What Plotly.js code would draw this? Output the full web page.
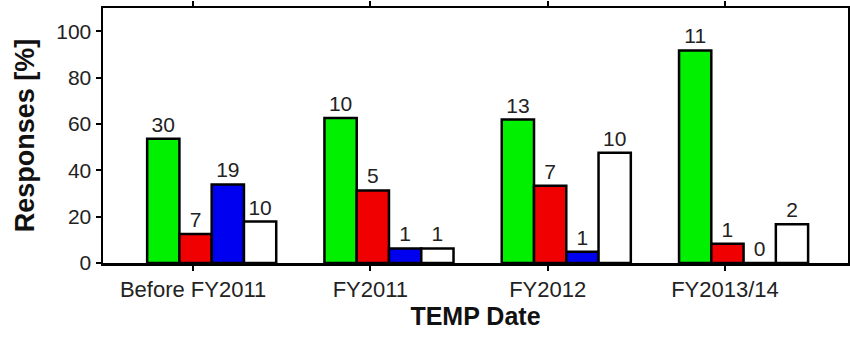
<!DOCTYPE html>
<html>
<head>
<meta charset="utf-8">
<script src="https://cdn.plot.ly/plotly-3.0.1.min.js"></script>
<style>
html,body{margin:0;padding:0;background:#fff;}
#chart{width:850px;height:338px;}
</style>
</head>
<body>
<div id="chart"></div>
<script>
// Categories (TEMP date groups)
const categories = ["Before FY2011", "FY2011", "FY2012", "FY2013/14"];

// Response percentages for each series
const greenPct = [53.6, 62.5, 61.9, 91.7];
const redPct   = [12.5, 31.3, 33.3, 8.3];
const bluePct  = [33.9, 6.3, 4.8, 0];
const whitePct = [17.9, 6.3, 47.6, 16.7];

// Response counts shown above each bar
const greenCnt = [30, 10, 13, 11];
const redCnt   = [7, 5, 7, 1];
const blueCnt  = [19, 1, 1, 0];
const whiteCnt = [10, 1, 10, 2];

// Y axis ticks
const yTicks = [0, 20, 40, 60, 80, 100];

const FONT = '"Liberation Sans", Arial, Helvetica, sans-serif';
const barW = 0.182;
const offsets = [-0.259, -0.077, 0.105, 0.287];

function mk(y, cnt, color, off) {
  return {
    type: 'bar',
    x: categories,
    y: y,
    text: cnt.map(String),
    textposition: 'outside',
    cliponaxis: false,
    textfont: {family: FONT, size: 21, color: '#222'},
    marker: {color: color, line: {color: '#000', width: 2.5}},
    width: barW,
    offset: off,
    hoverinfo: 'skip',
    showlegend: false
  };
}

const data = [
  mk(greenPct, greenCnt, '#00f000', offsets[0]),
  mk(redPct, redCnt, '#f00000', offsets[1]),
  mk(bluePct, blueCnt, '#0000f0', offsets[2]),
  mk(whitePct, whiteCnt, '#ffffff', offsets[3])
];

const layout = {
  width: 850,
  height: 338,
  margin: {l: 103, r: 2, t: 8, b: 75},
  paper_bgcolor: '#fff',
  plot_bgcolor: '#fff',
  barmode: 'overlay',
  font: {family: FONT, color: '#222'},
  xaxis: {
    type: 'category',
    range: [-0.508, 3.694],
    showline: true, linecolor: '#000', linewidth: 2.5, mirror: 'ticks',
    ticks: 'outside', ticklen: 5, tickwidth: 2, tickcolor: '#000',
    tickfont: {family: FONT, size: 22, color: '#222'},
    showgrid: false, zeroline: false,
    automargin: false,
    title: {text: 'TEMP Date', font: {family: FONT, size: 25, color: '#111', weight: 'bold'}, standoff: 7}
  },
  yaxis: {
    range: [0, 110],
    tickvals: yTicks,
    ticktext: yTicks.map(String),
    showline: true, linecolor: '#000', linewidth: 2.5, mirror: 'ticks',
    ticks: 'outside', ticklen: 5, tickwidth: 2, tickcolor: '#000',
    tickfont: {family: FONT, size: 21, color: '#222'},
    showgrid: false, zeroline: false,
    automargin: false,
    title: {text: 'Responses [%]', font: {family: FONT, size: 27, color: '#111', weight: 'bold'}, standoff: 14}
  }
};

Plotly.newPlot('chart', data, layout, {staticPlot: true, displayModeBar: false});
</script>
</body>
</html>
